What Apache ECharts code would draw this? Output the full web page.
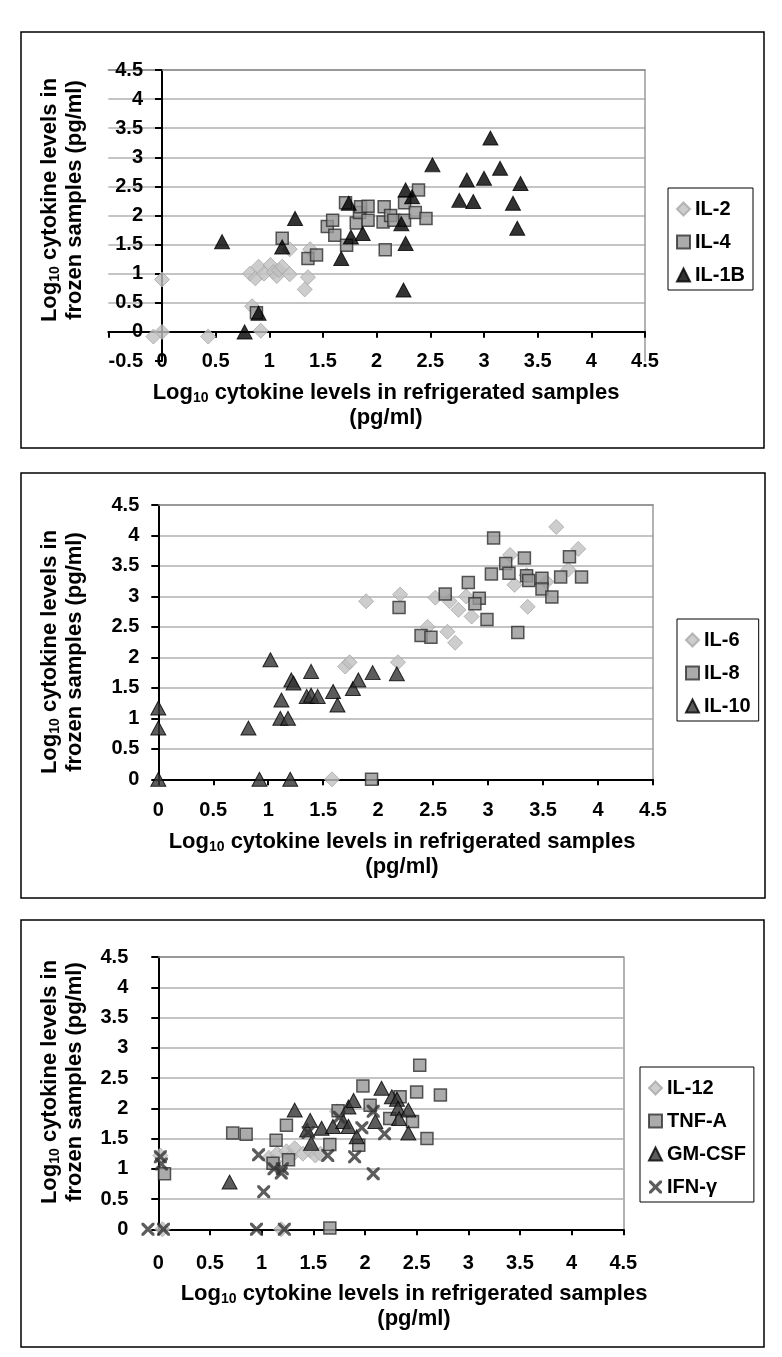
<!DOCTYPE html>
<html>
<head>
<meta charset="utf-8">
<script src="https://cdn.jsdelivr.net/npm/echarts@6/dist/echarts.min.js"></script>
<style>
html,body{margin:0;padding:0;background:#fff;}
#c{width:782px;height:1357px;}
</style>
</head>
<body>
<div id="c"></div>
<script>
// ---------- data (log10 refrigerated, log10 frozen) ----------
const il2 = [[0.0,0.9],[-0.08,-0.08],[0.0,0.0],[0.43,-0.08],[0.84,0.44],[0.92,0.02],[0.82,1.0],[0.87,0.92],[0.90,1.12],[0.95,1.0],[1.01,1.15],[1.04,1.03],[1.07,0.96],[1.09,1.06],[1.12,1.12],[1.19,0.99],[1.19,1.42],[1.33,0.73],[1.36,0.94],[1.38,1.42]];
const il4 = [[0.88,0.33],[1.12,1.61],[1.36,1.26],[1.44,1.32],[1.54,1.81],[1.59,1.92],[1.61,1.66],[1.71,2.22],[1.72,1.49],[1.81,1.87],[1.84,2.05],[1.85,2.15],[1.92,2.16],[1.92,1.92],[2.06,1.89],[2.07,2.15],[2.08,1.41],[2.13,2.0],[2.16,1.92],[2.26,1.92],[2.26,2.22],[2.36,2.05],[2.39,2.44],[2.46,1.95]];
const il1b = [[0.56,1.55],[0.77,0.0],[0.90,0.32],[1.12,1.46],[1.24,1.95],[1.67,1.26],[1.74,2.21],[1.76,1.63],[1.87,1.69],[2.23,1.86],[2.27,1.52],[2.25,0.72],[2.27,2.44],[2.33,2.32],[2.52,2.87],[2.77,2.26],[2.84,2.61],[2.90,2.24],[3.0,2.64],[3.06,3.33],[3.15,2.81],[3.27,2.21],[3.34,2.55],[3.31,1.78]];

const il6 = [[1.58,0.0],[1.70,1.85],[1.74,1.92],[1.89,2.92],[2.18,1.92],[2.20,3.03],[2.45,2.50],[2.52,2.98],[2.63,2.42],[2.65,2.92],[2.70,2.24],[2.73,2.78],[2.80,3.0],[2.85,2.67],[3.20,3.68],[3.24,3.19],[3.36,2.83],[3.35,3.35],[3.53,3.24],[3.62,4.14],[3.73,3.44],[3.82,3.78]];
const il8 = [[1.94,0.0],[2.19,2.82],[2.39,2.36],[2.48,2.33],[2.61,3.04],[2.82,3.23],[2.92,2.97],[2.88,2.88],[2.99,2.62],[3.03,3.37],[3.05,3.96],[3.16,3.54],[3.19,3.38],[3.27,2.41],[3.33,3.63],[3.35,3.34],[3.37,3.26],[3.49,3.30],[3.49,3.12],[3.58,2.99],[3.66,3.32],[3.74,3.65],[3.85,3.32]];
const il10 = [[0,1.17],[0,0.84],[0,0],[0.82,0.84],[0.92,0],[1.2,0],[1.02,1.96],[1.12,1.30],[1.11,1.0],[1.18,1.0],[1.21,1.63],[1.23,1.58],[1.39,1.77],[1.35,1.36],[1.39,1.38],[1.45,1.36],[1.59,1.44],[1.63,1.22],[1.77,1.49],[1.82,1.63],[1.95,1.75],[2.17,1.73]];

const il12 = [[0.02,1.22],[0.04,0],[1.19,0],[1.07,1.18],[1.12,1.12],[1.15,1.25],[1.24,1.29],[1.28,1.2],[1.32,1.34],[1.40,1.25],[1.47,1.30],[1.52,1.22],[1.57,1.25],[1.73,1.95],[2.07,2.0]];
const tnfa = [[0.06,0.92],[0.72,1.59],[0.85,1.57],[1.11,1.09],[1.14,1.47],[1.24,1.72],[1.26,1.15],[1.66,1.40],[1.66,0.02],[1.74,1.96],[1.94,1.39],[1.98,2.37],[2.05,2.05],[2.24,1.83],[2.34,2.19],[2.46,1.78],[2.50,2.27],[2.53,2.71],[2.60,1.50],[2.73,2.22]];
const gmcsf = [[0.69,0.78],[1.32,1.97],[1.44,1.64],[1.47,1.80],[1.48,1.42],[1.58,1.67],[1.69,1.70],[1.79,1.78],[1.84,2.02],[1.84,1.70],[1.89,2.13],[1.92,1.53],[2.10,1.78],[2.16,2.33],[2.26,2.19],[2.31,2.15],[2.32,2.0],[2.33,1.83],[2.42,1.97],[2.42,1.59]];
const ifng = [[-0.1,0],[0.05,0],[0.02,1.2],[0.03,1.08],[0.95,0],[1.22,0],[0.97,1.23],[1.02,0.62],[1.12,1.0],[1.19,0.93],[1.2,1.0],[1.45,1.6],[1.64,1.22],[1.75,1.85],[1.9,1.2],[1.97,1.68],[2.08,0.92],[2.08,1.95],[2.19,1.58]];

const names1 = ['IL-2','IL-4','IL-1B'];
const names2 = ['IL-6','IL-8','IL-10'];
const names3 = ['IL-12','TNF-A','GM-CSF','IFN-\u03b3'];
const xTitleText = '{b|Log}{s|10}{b| cytokine levels in refrigerated samples}\n{b|(pg/ml)}';
const yTitleText = '{b|Log}{s|10}{b| cytokine levels in}\n{b|frozen samples (pg/ml)}';

// ---------- styling ----------
const FONT = "'Liberation Sans', Arial, sans-serif";
const GRID_C = '#c4c4c4';
const X_PATH = 'path://M0,0L3.5,0L10,6.5L16.5,0L20,0L20,3.5L13.5,10L20,16.5L20,20L16.5,20L10,13.5L3.5,20L0,20L0,16.5L6.5,10L0,3.5Z';

// xOff / yOff move the axes inside the grid so they cross at zero
const panels = [
  {grid:{left:108.3, top:70, width:536.7, height:291}, xmin:-0.5, ymin:-0.5, xMargin:20, yMargin:19, xOff:-29.3, yOff:-53.7},
  {grid:{left:158.3, top:505, width:494.7, height:274.3}, xmin:0, ymin:0, xMargin:21, yMargin:19, xOff:0, yOff:0},
  {grid:{left:158.3, top:957, width:465, height:272.3}, xmin:0, ymin:0, xMargin:24, yMargin:30, xOff:0, yOff:0}
];

const labelStyle = {fontSize:20, fontWeight:'bold', color:'#000', fontFamily:FONT};

const grids = [], xAxes = [], yAxes = [];
panels.forEach((p, i) => {
  grids.push(Object.assign({containLabel:false}, p.grid));
  const nLines = Math.round((4.5 - p.ymin) / 0.5) + 1;
  const splitColors = [];
  for (let k = 0; k < nLines; k++) splitColors.push(k === 0 ? 'rgba(0,0,0,0)' : GRID_C);
  xAxes.push({
    type:'value', gridIndex:i, min:p.xmin, max:4.5, interval:0.5, position:'bottom', offset:p.xOff,
    axisLine:{onZero:false, lineStyle:{color:'#000', width:2}},
    axisTick:{show:true, inside:false, length:6, lineStyle:{color:'#000', width:2}},
    axisLabel:Object.assign({margin:p.xMargin, formatter:v => (v < 0 ? '' : String(v))}, labelStyle),
    splitLine:{show:false}
  });
  xAxes.push({
    type:'value', gridIndex:i, min:p.xmin, max:4.5, position:'top',
    axisLine:{onZero:false, lineStyle:{color:'#8a8a8a', width:1.5}},
    axisTick:{show:false}, axisLabel:{show:false}, splitLine:{show:false}
  });
  yAxes.push({
    type:'value', gridIndex:i, min:p.ymin, max:4.5, interval:0.5, position:'left', offset:p.yOff,
    axisLine:{onZero:false, lineStyle:{color:'#000', width:2}},
    axisTick:{show:true, inside:false, length:7, lineStyle:{color:'#000', width:2}},
    axisLabel:Object.assign({margin:p.yMargin}, labelStyle),
    splitLine:{show:true, lineStyle:{color:splitColors, width:2}}
  });
  yAxes.push({
    type:'value', gridIndex:i, min:p.ymin, max:4.5, position:'right',
    axisLine:{onZero:false, lineStyle:{color:'#9a9a9a', width:1.5}},
    axisTick:{show:false}, axisLabel:{show:false}, splitLine:{show:false}
  });
});

const diamond = {symbol:'diamond', symbolSize:15, itemStyle:{color:'#c0c0c0', borderColor:'#a8a8a8', borderWidth:1}};
const square = {symbol:'rect', symbolSize:12, itemStyle:{color:'#969696', borderColor:'#303030', borderWidth:1.5}};
const triBlack = {symbol:'triangle', symbolSize:[15,14], itemStyle:{color:'#000', borderColor:'#000', borderWidth:1}};
const triDark = {symbol:'triangle', symbolSize:[15,14], itemStyle:{color:'#333', borderColor:'#000', borderWidth:1}};
const cross = {symbol:X_PATH, symbolSize:13, itemStyle:{color:'#333'}};

function sc(name, data, panel, st) {
  return Object.assign({type:'scatter', name, data, xAxisIndex:2*panel, yAxisIndex:2*panel, clip:false, animation:false,
    emphasis:{disabled:true}}, JSON.parse(JSON.stringify(st)), {symbol:st.symbol});
}

const series = [
  sc('IL-2', il2, 0, diamond), sc('IL-4', il4, 0, square), sc('IL-1B', il1b, 0, triBlack),
  sc('IL-6', il6, 1, diamond), sc('IL-8', il8, 1, square), sc('IL-10', il10, 1, triDark),
  sc('IL-12', il12, 2, diamond), sc('TNF-A', tnfa, 2, square), sc('GM-CSF', gmcsf, 2, triDark), sc('IFN-\u03b3', ifng, 2, cross)
];

function lg(data, left, top, pad) {
  return {data, orient:'vertical', left, top, itemWidth:13, itemHeight:13, itemGap:11,
    padding:pad, borderColor:'#000', borderWidth:1, backgroundColor:'#fff', selectedMode:false,
    textStyle:{fontSize:20, fontWeight:'bold', color:'#000', fontFamily:FONT, lineHeight:22}};
}

const rich = {
  b:{fontSize:22, fontWeight:'bold', fontFamily:FONT, lineHeight:25, fill:'#000'},
  s:{fontSize:14, fontWeight:'bold', fontFamily:FONT, lineHeight:14, verticalAlign:'bottom', fill:'#000'}
};
function title(text, x, y, rot) {
  return {type:'text', x, y, rotation:rot, silent:true, z:10,
    style:{text, rich, fill:'#000', align:'center', verticalAlign:'middle', fontSize:22, fontWeight:'bold', fontFamily:FONT}};
}
function box(x, y, w, h) {
  return {type:'rect', silent:true, z:-1, shape:{x, y, width:w, height:h}, style:{fill:'none', stroke:'#000', lineWidth:1.5}};
}

const option = {
  backgroundColor:'#fff',
  animation:false,
  grid:grids, xAxis:xAxes, yAxis:yAxes, series,
  legend:[
    lg(names1, 668, 188, [10,8,4,8]),
    lg(names2, 677, 619, [10,8,4,8]),
    lg(names3, 640, 1067, [10,8,4,8])
  ],
  graphic:[
    box(21, 32, 743, 416), box(21, 473, 744, 425), box(21, 920, 743, 427),
    title(xTitleText, 386, 405, 0), title(yTitleText, 62, 200, Math.PI/2),
    title(xTitleText, 402, 854, 0), title(yTitleText, 62, 652, Math.PI/2),
    title(xTitleText, 414, 1306, 0), title(yTitleText, 62, 1082, Math.PI/2)
  ]
};

const chart = echarts.init(document.getElementById('c'), null, {renderer:'canvas', width:782, height:1357});
chart.setOption(option);
</script>
</body>
</html>
